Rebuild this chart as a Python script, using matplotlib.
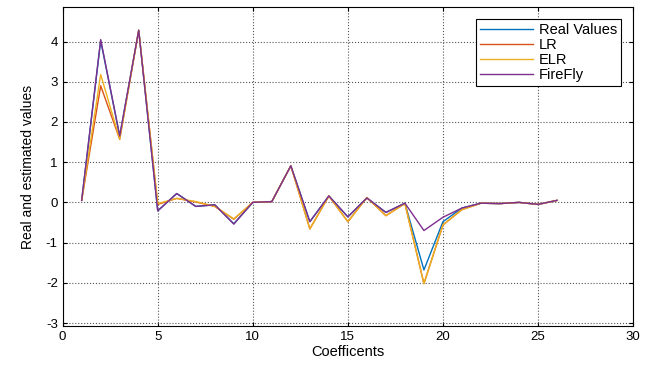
import matplotlib
matplotlib.use('Agg')
import matplotlib.pyplot as plt

plt.rcParams['font.family'] = ['Liberation Sans', 'DejaVu Sans']
plt.rcParams['axes.unicode_minus'] = False

# данные
x = list(range(1, 27))
real_values = [0.05, 4.02, 1.65, 4.28, -0.21, 0.22, -0.10, -0.06, -0.53, 0.0,
               0.02, 0.91, -0.48, 0.16, -0.36, 0.11, -0.25, -0.02, -1.68, -0.48,
               -0.14, -0.02, -0.03, 0.0, -0.05, 0.05]
lr = [0.05, 2.90, 1.57, 4.28, -0.05, 0.10, 0.01, -0.10, -0.42, 0.0,
      0.02, 0.91, -0.66, 0.16, -0.48, 0.12, -0.33, -0.03, -2.02, -0.56,
      -0.18, -0.02, -0.03, 0.0, -0.05, 0.05]
elr = [0.05, 3.18, 1.57, 4.28, -0.03, 0.10, 0.02, -0.10, -0.41, 0.0,
       0.02, 0.91, -0.66, 0.16, -0.48, 0.12, -0.33, -0.03, -2.02, -0.56,
       -0.18, -0.02, -0.03, 0.0, -0.05, 0.05]
firefly = [0.05, 4.05, 1.65, 4.28, -0.21, 0.22, -0.10, -0.06, -0.54, 0.0,
           0.02, 0.91, -0.48, 0.16, -0.36, 0.11, -0.25, -0.02, -0.70, -0.37,
           -0.14, -0.02, -0.03, 0.0, -0.05, 0.05]

fig = plt.figure(figsize=(6.46, 3.69), dpi=100)
ax = fig.add_axes([0.097, 0.117, 0.883, 0.863])

ax.plot(x, real_values, color='#0072BD', lw=1.0, label='Real Values')
ax.plot(x, lr, color='#D95319', lw=1.0, label='LR')
ax.plot(x, elr, color='#EDB120', lw=1.0, label='ELR')
ax.plot(x, firefly, color='#7E2F8E', lw=1.0, label='FireFly')

ax.set_xlim(0, 30)
ax.set_ylim(-3.07, 4.85)
ax.set_xticks(range(0, 31, 5))
ax.set_yticks(range(-3, 5))
ax.tick_params(direction='in', labelsize=9.5, length=3, top=True, right=True)
ax.grid(True, linestyle=':', color='#555555', lw=0.8)
for s in ax.spines.values():
    s.set_linewidth(0.8)

ax.set_xlabel('Coefficents', fontsize=10.5, labelpad=2)
ax.set_ylabel('Real and estimated values', fontsize=10, labelpad=8,
              family=['Liberation Sans Narrow', 'Liberation Sans'])

leg = ax.legend(loc='upper right', fontsize=10.5, fancybox=False, edgecolor='black',
                framealpha=1, handlelength=3.6, handletextpad=0.4,
                borderaxespad=0.8, labelspacing=0.05, borderpad=0.3)
leg.get_frame().set_linewidth(0.8)

plt.savefig('out.png', dpi=100)
